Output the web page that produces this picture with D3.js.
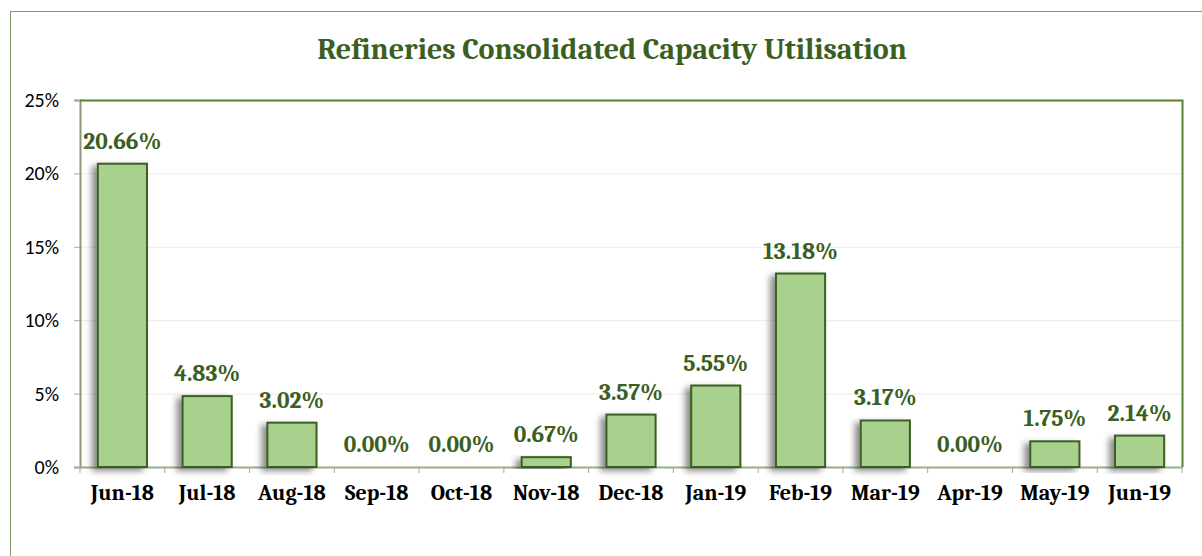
<!DOCTYPE html>
<html><head><meta charset="utf-8">
<script src="https://cdn.jsdelivr.net/npm/d3@7"></script>
<style>body{margin:0;background:#fff}</style>
</head><body>
<svg id="c" width="1202" height="556"></svg>
<script>
const categories = ["Jun-18","Jul-18","Aug-18","Sep-18","Oct-18","Nov-18","Dec-18","Jan-19","Feb-19","Mar-19","Apr-19","May-19","Jun-19"];
const values = [20.66, 4.83, 3.02, 0.00, 0.00, 0.67, 3.57, 5.55, 13.18, 3.17, 0.00, 1.75, 2.14];
const yTicks = [0, 5, 10, 15, 20, 25];
const title = "Refineries Consolidated Capacity Utilisation";

const svg = d3.select("#c");
const W = 1202, H = 556;
const m = {left: 80, top: 100, right: 1182, bottom: 467};
const serif = "Cambria, 'Liberation Serif', 'DejaVu Serif', serif";
const sans = "Calibri, 'Liberation Sans', Arial, sans-serif";

const defs = svg.append("defs");
const f = defs.append("filter").attr("id","sh").attr("x","-50%").attr("y","-20%").attr("width","200%").attr("height","140%");
f.append("feDropShadow").attr("dx",-5).attr("dy",3).attr("stdDeviation",3).attr("flood-color","#000").attr("flood-opacity",0.45);

// outer chart border
svg.append("rect").attr("x",10.5).attr("y",11.5).attr("width",W).attr("height",H)
  .attr("fill","#fff").attr("stroke","#7f9a6a").attr("stroke-width",1);

const x = d3.scaleBand().domain(categories).range([m.left, m.right]).paddingInner(0.42).paddingOuter(0.21);
const y = d3.scaleLinear().domain([0,25]).range([m.bottom, m.top]);

// gridlines
svg.append("g").selectAll("line").data(yTicks.filter(t=>t>0 && t<25)).join("line")
  .attr("x1",m.left).attr("x2",m.right).attr("y1",d=>y(d)+0.5).attr("y2",d=>y(d)+0.5)
  .attr("stroke","#ebebeb").attr("stroke-width",1);

// y axis
const ya = svg.append("g").attr("transform",`translate(${m.left},0)`)
  .call(d3.axisLeft(y).tickValues(yTicks).tickFormat(d=>d+"%").tickSize(6).tickPadding(15));
ya.select(".domain").attr("stroke","#8a9a7a").attr("stroke-width",2);
ya.selectAll(".tick line").attr("stroke","#a6a6a6");
ya.selectAll("text").attr("font-family",sans).attr("font-size",20).attr("fill","#000");

// x axis
const xa = svg.append("g").attr("transform",`translate(0,${m.bottom})`)
  .call(d3.axisBottom(x).tickSize(0).tickPadding(17));
xa.select(".domain").attr("stroke","#9aae8c").attr("stroke-width",2);
xa.selectAll("text").attr("font-family",serif).attr("font-weight","bold").attr("font-size",22).attr("fill","#000");
// boundary ticks
const bounds = d3.range(categories.length+1).map(i => m.left + i*(m.right-m.left)/categories.length);
svg.append("g").selectAll("line").data(bounds).join("line")
  .attr("x1",d=>d).attr("x2",d=>d).attr("y1",m.bottom).attr("y2",m.bottom+6)
  .attr("stroke","#a6a6a6");

// plot frame top/right
svg.append("path").attr("d",`M${m.left},${m.top+0.5}H${m.right+0.5}V${m.bottom}`)
  .attr("fill","none").attr("stroke","#548235").attr("stroke-width",2);

// bars
svg.append("g").selectAll("rect").data(values.map((v,i)=>({c:categories[i],v}))).join("rect")
  .filter(d=>d.v>0)
  .attr("x",d=>x(d.c)).attr("width",x.bandwidth())
  .attr("y",d=>y(d.v)).attr("height",d=>y(0)-y(d.v))
  .attr("fill","#a9d18e").attr("stroke","#3b5e22").attr("stroke-width",2)
  .attr("filter","url(#sh)");

// labels
svg.append("g").selectAll("text").data(values.map((v,i)=>({c:categories[i],v}))).join("text")
  .attr("x",d=>x(d.c)+x.bandwidth()/2).attr("y",d=>y(d.v)-15)
  .attr("text-anchor","middle").attr("font-family",serif).attr("font-weight","bold")
  .attr("font-size",23.5).attr("fill","#3b5e22").text(d=>d.v.toFixed(2)+"%");

// title
svg.append("text").attr("x",612).attr("y",59).attr("text-anchor","middle")
  .attr("font-family",serif).attr("font-weight","bold").attr("font-size",30).attr("fill","#3b5e22")
  .text(title);
</script>
</body></html>
